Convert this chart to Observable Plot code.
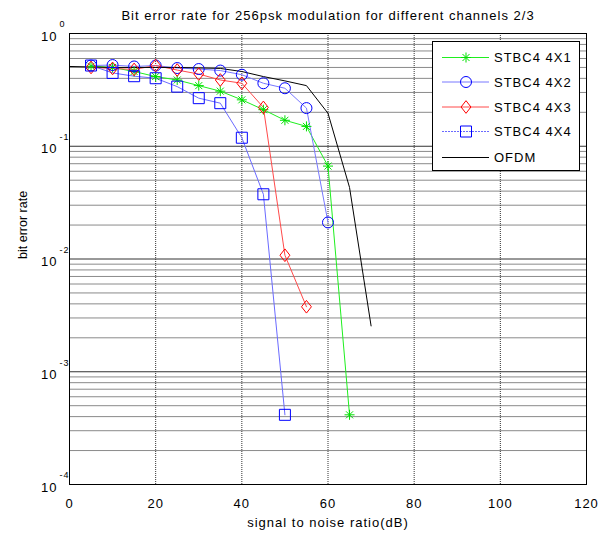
<!DOCTYPE html>
<html><head><meta charset="utf-8">
<script src="https://cdn.jsdelivr.net/npm/d3@7"></script>
<script src="https://cdn.jsdelivr.net/npm/@observablehq/plot@0.6"></script>
<style>
body{margin:0;background:#fff;}
#wrap{position:relative;width:616px;height:536px;font-family:'Liberation Sans',Arial,sans-serif;}
#legend{position:absolute;left:432px;top:41px;}
</style></head><body><div id="wrap"></div>
<script>
const title = "Bit error rate for 256psk modulation for different channels 2/3";
const xLabel = "signal to noise ratio(dB)";
const yLabel = "bit error rate";
const xTicks = [0, 20, 40, 60, 80, 100, 120];
const yDecades = [1e-4, 1e-3, 1e-2, 1e-1, 1];

const seriesNames = ["STBC4 4X1", "STBC4 4X2", "STBC4 4X3", "STBC4 4X4", "OFDM"];

const snr4x1 = [5, 10, 15, 20, 25, 30, 35, 40, 45, 50, 55, 60, 65];
const ber4x1 = [0.512, 0.50, 0.46, 0.415, 0.387, 0.345, 0.308, 0.258, 0.211, 0.170, 0.150, 0.0667, 0.000415];

const snr4x2 = [5, 10, 15, 20, 25, 30, 35, 40, 45, 50, 55, 60];
const ber4x2 = [0.52, 0.525, 0.51, 0.52, 0.494, 0.484, 0.469, 0.431, 0.362, 0.327, 0.218, 0.0211];

const snr4x3 = [5, 10, 15, 20, 25, 30, 35, 40, 45, 50, 55];
const ber4x3 = [0.50, 0.49, 0.48, 0.52, 0.474, 0.437, 0.387, 0.362, 0.221, 0.0108, 0.00377];

const snr4x4 = [5, 10, 15, 20, 25, 30, 35, 40, 45, 50];
const ber4x4 = [0.52, 0.447, 0.418, 0.401, 0.338, 0.267, 0.241, 0.119, 0.0375, 0.000415];

const snrOfdm = [0, 5, 10, 15, 20, 25, 30, 35, 40, 45, 50, 55, 60, 65, 70];
const berOfdm = [0.51, 0.505, 0.50, 0.50, 0.50, 0.50, 0.495, 0.49, 0.46, 0.415, 0.38, 0.345, 0.196, 0.0431, 0.00255];

const toRows = (xs, ys) => xs.map((x, i) => ({x, y: ys[i]}));
const d4x1 = toRows(snr4x1, ber4x1);
const d4x2 = toRows(snr4x2, ber4x2);
const d4x3 = toRows(snr4x3, ber4x3);
const d4x4 = toRows(snr4x4, ber4x4);
const dOfdm = toRows(snrOfdm, berOfdm);

// minor grid values
const minorVals = [];
for (let k = -4; k < 0; k++) for (let m = 2; m <= 9; m++) minorVals.push(m * Math.pow(10, k));

// custom symbols (MATLAB-like)
const diamondSym = {draw(ctx, size) { const r = Math.sqrt(size / Math.PI); const w = r * 0.9, h = r * 1.15;
  ctx.moveTo(0, -h); ctx.lineTo(w, 0); ctx.lineTo(0, h); ctx.lineTo(-w, 0); ctx.closePath(); }};
const squareSym = {draw(ctx, size) { const r = Math.sqrt(size / Math.PI);
  ctx.moveTo(-r, -r); ctx.lineTo(r, -r); ctx.lineTo(r, r); ctx.lineTo(-r, r); ctx.closePath(); }};
const starSym = {draw(ctx, size) { const r = Math.sqrt(size / Math.PI); const d = r * 0.7;
  ctx.moveTo(-r, 0); ctx.lineTo(r, 0); ctx.moveTo(0, -r); ctx.lineTo(0, r);
  ctx.moveTo(-d, -d); ctx.lineTo(d, d); ctx.moveTo(-d, d); ctx.lineTo(d, -d); }};
const circleSym = {draw(ctx, size) { const r = Math.sqrt(size / Math.PI); ctx.moveTo(r, 0); ctx.arc(0, 0, r, 0, 2 * Math.PI); }};

const styles = [
  {line: "#1fef1f", mark: "#00e000", sym: starSym, r: 5, dash: null},
  {line: "#7878ff", mark: "#0000ff", sym: circleSym, r: 5.5, dash: null},
  {line: "#ff4a4a", mark: "#ff0000", sym: diamondSym, r: 5.5, dash: null},
  {line: "#6a6aff", mark: "#0000ff", sym: squareSym, r: 5.5, dash: "2,1"},
  {line: "#000000", mark: null, sym: null, r: 0, dash: null}
];
const datasets = [d4x1, d4x2, d4x3, d4x4, dOfdm];

const marks = [
  Plot.ruleY(minorVals, {stroke: "#8a8a8a", strokeWidth: 1}),
  Plot.ruleY(yDecades, {stroke: "#333", strokeWidth: 1}),
  Plot.ruleX(xTicks.slice(1, -1), {stroke: "#333", strokeWidth: 1, strokeDasharray: "1,1"})
];
datasets.forEach((ds, i) => {
  const s = styles[i];
  marks.push(Plot.line(ds, {x: "x", y: "y", stroke: s.line, strokeWidth: 1}));
});
datasets.forEach((ds, i) => {
  const s = styles[i];
  if (s.sym) marks.push(Plot.dot(ds, {x: "x", y: "y", symbol: s.sym, r: s.r, stroke: s.mark, fill: "none", strokeWidth: 1}));
});
marks.push(
  Plot.frame({stroke: "#000", strokeWidth: 1}),
  Plot.text(xTicks, {x: d => d, text: d => String(d), frameAnchor: "bottom", dy: 19, lineAnchor: "middle", fontSize: 13}),
  Plot.text(yDecades, {y: d => d, text: () => "10", frameAnchor: "left", dx: -12, dy: 3, textAnchor: "end", lineAnchor: "middle", fontSize: 13}),
  Plot.text(yDecades, {y: d => d, text: d => String(Math.round(Math.log10(d))), frameAnchor: "left", dx: -10, dy: -9, textAnchor: "start", lineAnchor: "middle", fontSize: 9}),
  Plot.text([xLabel], {text: d => d, frameAnchor: "bottom", dy: 38, lineAnchor: "middle", fontSize: 13}),
  Plot.text([yLabel], {text: d => d, frameAnchor: "left", dx: -47, rotate: -90, lineAnchor: "middle", fontSize: 12.5}),
  Plot.text([title], {text: d => d, frameAnchor: "top", dy: -18, lineAnchor: "middle", fontSize: 13})
);

const chart = Plot.plot({
  width: 616, height: 536,
  marginLeft: 69, marginRight: 30, marginTop: 33, marginBottom: 52,
  x: {domain: [0, 120], axis: null},
  y: {type: "log", domain: [1e-4, 1], axis: null},
  style: {fontFamily: "'Liberation Sans', Arial, sans-serif", fontSize: "13px", background: "#fff", letterSpacing: "1px", overflow: "visible"},
  marks
});
const wrap = document.getElementById("wrap");
wrap.appendChild(chart);
d3.select(chart).selectAll("text").filter(function() { return this.textContent === yLabel; }).style("letter-spacing", "0px");

// legend
const lw = 148, lh = 130, rowsY = [16.5, 41, 66, 90.5, 116.5];
let svg = `<svg width="${lw}" height="${lh}" style="display:block">`;
svg += `<rect x="0.5" y="0.5" width="${lw - 1}" height="${lh - 1}" fill="#fff" stroke="#000"/>`;
seriesNames.forEach((name, i) => {
  const s = styles[i], y = rowsY[i];
  svg += `<line x1="10" x2="57" y1="${y}" y2="${y}" stroke="${s.line}" stroke-width="1" ${s.dash ? `stroke-dasharray="${s.dash}"` : ""}/>`;
  if (s.sym) {
    const p = d3.symbol().type(s.sym).size(Math.PI * s.r * s.r)();
    svg += `<path d="${p}" transform="translate(34,${y})" fill="none" stroke="${s.mark}"/>`;
  }
  svg += `<text x="62" y="${y}" dy="0.35em" font-size="13" letter-spacing="1px" font-family="'Liberation Sans', Arial, sans-serif">${name}</text>`;
});
svg += `</svg>`;
const leg = document.createElement("div");
leg.id = "legend";
leg.innerHTML = svg;
wrap.appendChild(leg);
</script></body></html>
